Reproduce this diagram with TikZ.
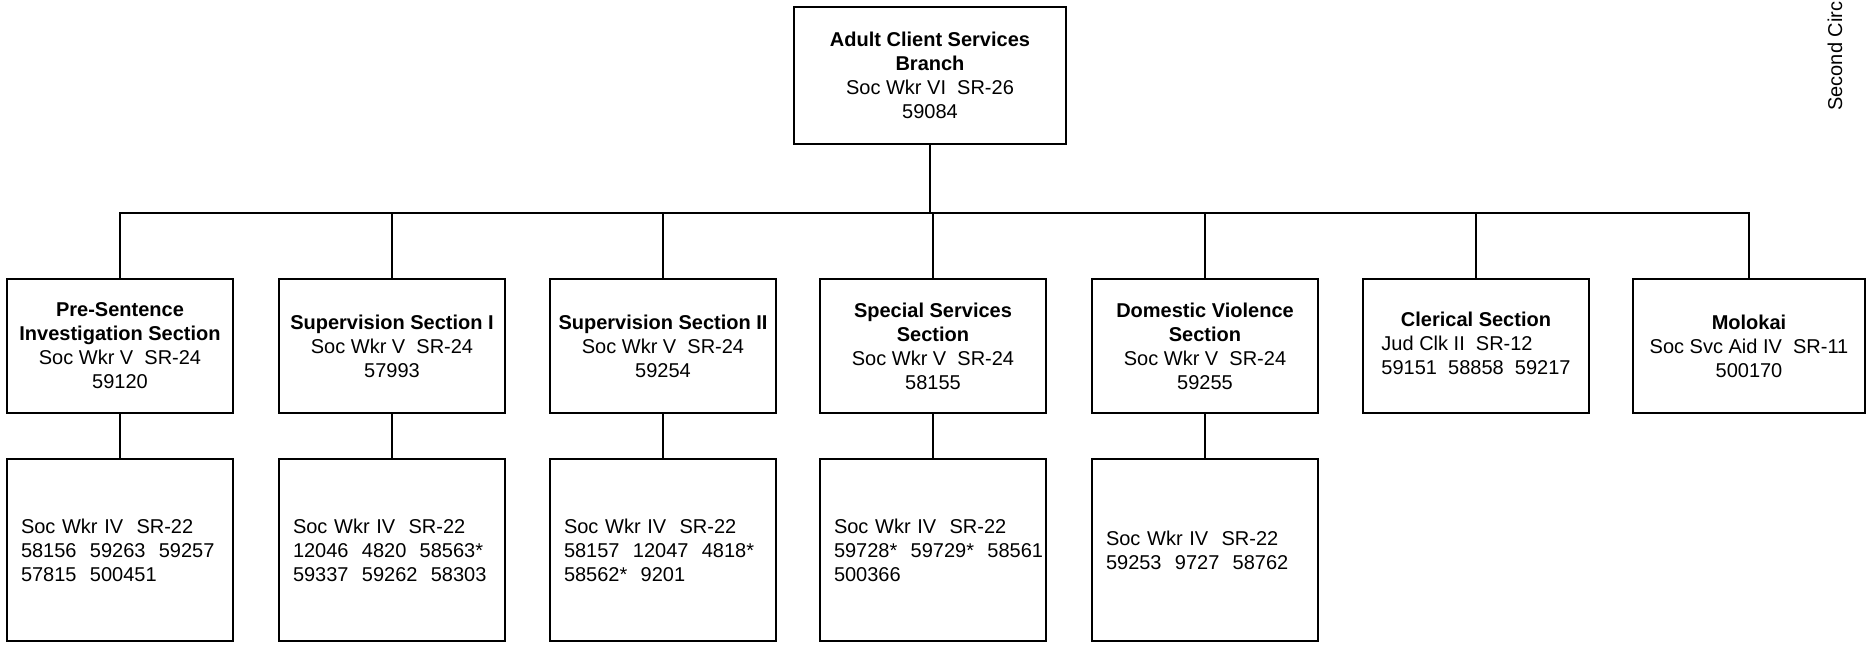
\documentclass[tikz,border=0pt]{standalone}
\usepackage{fontspec}
\setmainfont{Liberation Sans}
\begin{document}
\begin{tikzpicture}[x=0.5pt,y=0.5pt,
  every node/.style={font=\fontsize{10}{12}\selectfont},
  box/.style={draw=black, line width=1.2pt, outer sep=0pt, inner sep=2pt, align=center},
  topbox/.style={box, minimum width=136pt, minimum height=68.5pt},
  secbox/.style={box, minimum width=113pt, minimum height=67pt},
  unitbox/.style={box, minimum width=113pt, minimum height=91pt, text width=99pt, inner xsep=7pt, align=left},
  link/.style={draw=black, line width=0.9pt}]
\useasboundingbox (0,0) rectangle (1870,645);
\clip (0,0) rectangle (1870,645);

% top box
\node[topbox] (top) at (930,569.5) {\textbf{Adult Client Services}\\\textbf{Branch}\\Soc Wkr VI~~SR-26\\59084};

% sections
\node[secbox] (s1) at (120,299) {\textbf{Pre-Sentence}\\\textbf{Investigation Section}\\Soc Wkr V~~SR-24\\59120};
\node[secbox] (s2) at (392,299) {\textbf{Supervision Section I}\\Soc Wkr V~~SR-24\\57993};
\node[secbox] (s3) at (663,299) {\textbf{Supervision Section II}\\Soc Wkr V~~SR-24\\59254};
\node[secbox] (s4) at (933,299) {\textbf{Special Services}\\\textbf{Section}\\Soc Wkr V~~SR-24\\58155};
\node[secbox] (s5) at (1205,299) {\textbf{Domestic Violence}\\\textbf{Section}\\Soc Wkr V~~SR-24\\59255};
\node[secbox] (s6) at (1476,299) {\begin{tabular}{@{}l@{}}\multicolumn{1}{@{}c@{}}{\textbf{Clerical Section}}\\Jud Clk II~~SR-12\\59151~~58858~~59217\end{tabular}};
\node[secbox, minimum width=116pt] (s7) at (1749,299) {\textbf{Molokai}\\Soc Svc Aid IV~~SR-11\\500170};

% units
\node[unitbox] (u1) at (120,95) {Soc Wkr IV~~SR-22\\58156~~59263~~59257\\57815~~500451};
\node[unitbox] (u2) at (392,95) {Soc Wkr IV~~SR-22\\12046~~4820~~58563*\\59337~~59262~~58303};
\node[unitbox] (u3) at (663,95) {Soc Wkr IV~~SR-22\\58157~~12047~~4818*\\58562*~~9201};
\node[unitbox] (u4) at (933,95) {Soc Wkr IV~~SR-22\\59728*~~59729*~~58561\\500366};
\node[unitbox] (u5) at (1205,95) {Soc Wkr IV~~SR-22\\59253~~9727~~58762};

% side label
\node[rotate=90, anchor=base west, inner sep=0pt] (side) at (1842,534) {Second Circ};

% connectors
\coordinate (bus) at (930,432);
\path[link] (top.south) -- (top.south |- bus);
\path[link] (s1.north) -- (s1.north |- bus) -- (s7.north |- bus) -- (s7.north);
\foreach \k in {2,3,4,5,6} { \path[link] (s\k.north) -- (s\k.north |- bus); }
\foreach \k in {1,2,3,4,5} { \path[link] (s\k.south) -- (u\k.north); }
\end{tikzpicture}
\end{document}
